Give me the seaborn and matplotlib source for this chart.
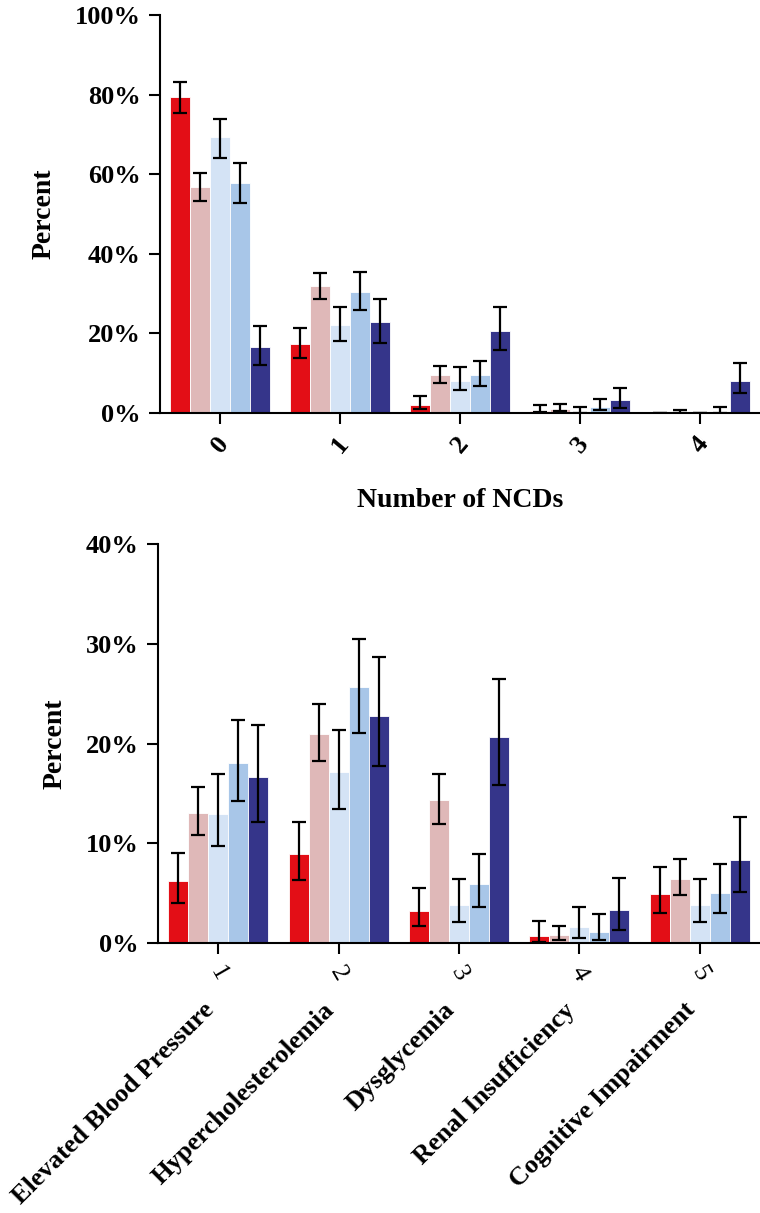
import pandas as pd
import numpy as np
import seaborn as sns
import matplotlib.pyplot as plt
from matplotlib.ticker import FuncFormatter

# groups (hue levels) and their colours
groups = ['G1', 'G2', 'G3', 'G4', 'G5']
colors = ['#E30E16', '#DFB8B8', '#D4E3F5', '#A8C6E8', '#35358A']

# top panel: number of NCDs
n_ncd = ['0', '1', '2', '3', '4']
top_val = [
    [79.5, 17.3, 2.0, 0.5, 0.0],
    [56.9, 31.9, 9.5, 1.1, 0.0],
    [69.3, 22.0, 8.1, 0.3, 0.0],
    [57.8, 30.4, 9.5, 1.5, 0.3],
    [16.6, 22.9, 20.7, 3.2, 8.1],
]
top_lo = [
    [75.3, 13.9, 0.9, 0.2, 0.0],
    [53.4, 28.7, 7.6, 0.5, 0.0],
    [64.2, 18.1, 5.7, 0.0, 0.0],
    [52.7, 25.8, 6.9, 0.7, 0.0],
    [12.1, 17.7, 15.8, 1.2, 5.1],
]
top_hi = [
    [83.3, 21.4, 4.2, 2.0, 0.0],
    [60.3, 35.1, 11.9, 2.2, 0.7],
    [73.9, 26.6, 11.6, 1.4, 0.0],
    [62.9, 35.4, 13.1, 3.5, 1.4],
    [21.9, 28.7, 26.6, 6.4, 12.6],
]

# bottom panel: individual NCDs
ncd_num = ['1', '2', '3', '4', '5']
ncd_names = ['Elevated Blood Pressure', 'Hypercholesterolemia', 'Dysglycemia',
             'Renal Insufficiency', 'Cognitive Impairment']
bot_val = [
    [6.2, 8.9, 3.2, 0.7, 4.9],
    [13.0, 21.0, 14.3, 0.85, 6.4],
    [12.9, 17.1, 3.8, 1.6, 3.8],
    [18.0, 25.7, 5.9, 1.1, 5.0],
    [16.6, 22.8, 20.7, 3.3, 8.3],
]
bot_lo = [
    [4.0, 6.3, 1.7, 0.1, 3.0],
    [10.8, 18.2, 11.9, 0.3, 4.8],
    [9.7, 13.4, 2.1, 0.5, 2.1],
    [14.2, 21.1, 3.6, 0.3, 3.0],
    [12.1, 17.7, 15.8, 1.35, 5.1],
]
bot_hi = [
    [9.0, 12.1, 5.5, 2.2, 7.6],
    [15.6, 24.0, 16.9, 1.75, 8.4],
    [16.9, 21.4, 6.4, 3.6, 6.4],
    [22.4, 30.5, 8.9, 2.9, 7.9],
    [21.9, 28.7, 26.5, 6.5, 12.6],
]

BAR_W = 0.83

plt.rcParams['font.family'] = ['Liberation Serif', 'DejaVu Serif']
plt.rcParams['font.weight'] = 'bold'
plt.rcParams['axes.labelweight'] = 'bold'


def long_df(cats, vals):
    rows = []
    for g, v in zip(groups, vals):
        for c, y in zip(cats, v):
            rows.append({'cat': c, 'group': g, 'pct': y})
    return pd.DataFrame(rows)


def draw(ax, cats, vals, lo, hi):
    df = long_df(cats, vals)
    sns.barplot(data=df, x='cat', y='pct', hue='group', order=cats, hue_order=groups,
                palette=colors, errorbar=None, width=BAR_W, saturation=1,
                edgecolor='white', linewidth=0.6, legend=False, ax=ax)
    n = len(groups)
    w = BAR_W / n
    for k in range(n):
        xs = np.arange(len(cats)) + (k - (n - 1) / 2) * w
        v = np.array(vals[k])
        yerr = [v - np.array(lo[k]), np.array(hi[k]) - v]
        ax.errorbar(xs, v, yerr=yerr, fmt='none', ecolor='black', elinewidth=1.6,
                    capsize=5, capthick=1.6, zorder=5)
    sns.despine(ax=ax)
    for s in ['left', 'bottom']:
        ax.spines[s].set_linewidth(1.5)
        ax.spines[s].set_color('black')
    ax.tick_params(direction='out', length=8, width=1.5, labelsize=19, pad=6)
    ax.yaxis.set_major_formatter(FuncFormatter(lambda t, p: f'{int(round(t))}%'))
    ax.set_xlim(-0.5, 4.5)


fig = plt.figure(figsize=(7.6, 12.13), dpi=100)
ax1 = fig.add_axes([0.2105, 0.6595, 0.7895, 0.3281])
ax2 = fig.add_axes([0.208, 0.2226, 0.792, 0.3289])

draw(ax1, n_ncd, top_val, top_lo, top_hi)
ax1.set_ylim(0, 100)
ax1.set_yticks([0, 20, 40, 60, 80, 100])
ax1.set_ylabel('Percent', fontsize=20, labelpad=13)
ax1.set_xlabel('Number of NCDs', fontsize=20, labelpad=22)
for lab in ax1.get_xticklabels():
    lab.set_rotation(50)
    lab.set_fontweight('bold')

draw(ax2, ncd_num, bot_val, bot_lo, bot_hi)
ax2.set_ylim(0, 40)
ax2.set_yticks([0, 10, 20, 30, 40])
ax2.set_ylabel('Percent', fontsize=20, labelpad=13)
ax2.set_xlabel('')
for lab in ax2.get_xticklabels():
    lab.set_rotation(-60)
    lab.set_fontweight('normal')
for i, name in enumerate(ncd_names):
    ax2.annotate(name, xy=(i, 0), xycoords=('data', 'axes fraction'),
                 xytext=(0, -40), textcoords='offset points',
                 rotation=45, ha='right', va='top', fontsize=19, fontweight='bold')

fig.savefig('out.png', dpi=100)
